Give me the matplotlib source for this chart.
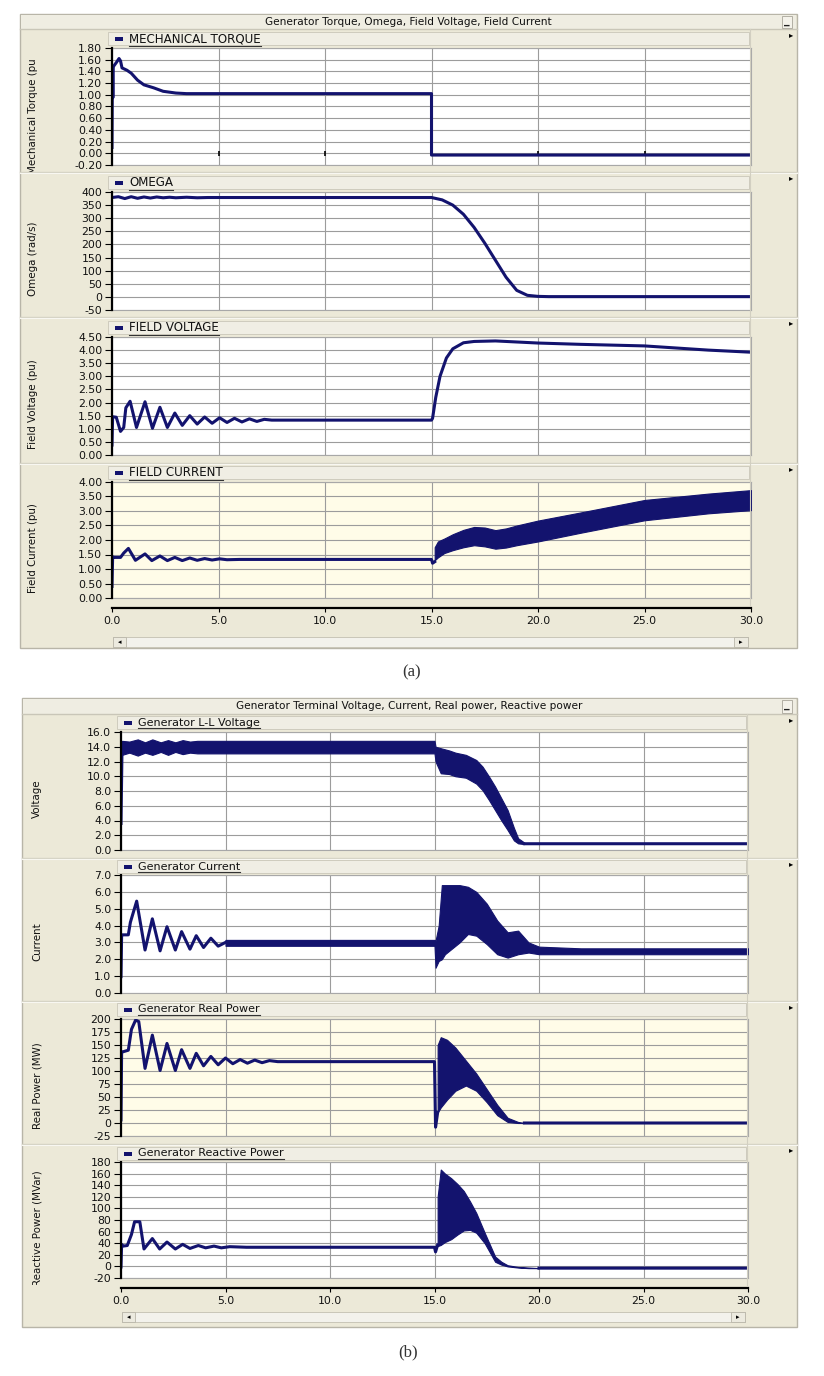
import numpy as np
import matplotlib
matplotlib.use("Agg")
import matplotlib.pyplot as plt
from matplotlib.patches import Rectangle
from matplotlib.lines import Line2D
from matplotlib.transforms import Bbox

# ---------------- data ----------------
# (a) Mechanical torque (pu)
torque_t = [0.0, 0.02, 0.04, 0.06, 0.10, 0.20, 0.33, 0.40, 0.47, 0.70, 0.90, 1.20, 1.50, 1.95, 2.40, 3.00, 3.50, 4.00, 15.0, 15.0, 30.0]
torque_v = [0.10, 1.45, 0.95, 1.48, 1.50, 1.55, 1.62, 1.58, 1.46, 1.42, 1.37, 1.25, 1.17, 1.12, 1.06, 1.03, 1.02, 1.02, 1.02, -0.03, -0.03]

# (a) Omega (rad/s)
omega_t = [0.0, 0.3, 0.6, 0.9, 1.2, 1.5, 1.8, 2.1, 2.4, 2.7, 3.0, 3.5, 4.0, 4.5, 5.0, 15.0, 15.5, 16.0, 16.5, 17.0, 17.5, 18.0, 18.5, 19.0, 19.5, 20.0, 20.5, 30.0]
omega_v = [379, 382, 375, 382, 376, 381, 377, 381, 378, 380, 378, 380, 378, 379, 379, 379, 370, 350, 315, 265, 205, 140, 75, 25, 6, 2, 1, 1]

# (a) Field voltage (pu)
fv_t = [0.0, 0.03, 0.20, 0.40, 0.55, 0.65, 0.85, 1.15, 1.55, 1.90, 2.25, 2.60, 2.95, 3.30, 3.65, 4.00, 4.35, 4.70, 5.05, 5.40, 5.75, 6.10, 6.45, 6.80, 7.15, 7.50,
        15.0, 15.05, 15.2, 15.4, 15.7, 16.0, 16.5, 17.0, 18.0, 19.0, 20.0, 22.0, 25.0, 28.0, 30.0]
fv_v = [0.38, 1.46, 1.44, 0.90, 1.05, 1.80, 2.05, 1.05, 2.03, 1.02, 1.82, 1.05, 1.60, 1.13, 1.50, 1.18, 1.45, 1.21, 1.42, 1.24, 1.40, 1.26, 1.38, 1.28, 1.36, 1.33,
        1.33, 1.40, 2.20, 3.00, 3.70, 4.05, 4.28, 4.33, 4.35, 4.31, 4.27, 4.22, 4.16, 4.00, 3.92]

# (a) Field current (pu): line part, then oscillating band
fc_t = [0.0, 0.03, 0.10, 0.40, 0.55, 0.77, 1.10, 1.55, 1.87, 2.25, 2.60, 2.95, 3.30, 3.65, 4.00, 4.35, 4.70, 5.05, 5.40, 6.00, 15.0, 15.05, 15.15]
fc_v = [0.40, 1.42, 1.40, 1.40, 1.55, 1.71, 1.30, 1.52, 1.29, 1.45, 1.29, 1.40, 1.29, 1.38, 1.30, 1.36, 1.31, 1.35, 1.32, 1.33, 1.33, 1.20, 1.25]
fc_band_t = [15.15, 15.3, 15.6, 16.0, 16.5, 17.0, 17.5, 18.0, 18.5, 19.0, 20.0, 22.0, 25.0, 28.0, 30.0]
fc_lo = [1.30, 1.40, 1.55, 1.65, 1.75, 1.82, 1.78, 1.70, 1.74, 1.82, 1.95, 2.25, 2.68, 2.92, 3.03]
fc_hi = [1.75, 1.95, 2.05, 2.20, 2.35, 2.45, 2.43, 2.34, 2.40, 2.50, 2.67, 2.95, 3.38, 3.60, 3.72]

# (b) Generator L-L voltage: start/tail line, band
volt_t = [0.0, 0.05, np.nan, 19.3, 30.0]
volt_v = [3.6, 14.0, np.nan, 0.85, 0.85]
volt_band_t = [0.05, 0.4, 0.8, 1.15, 1.5, 1.9, 2.25, 2.6, 2.95, 3.3, 3.65, 4.0, 8.0, 15.0, 15.05, 15.3, 15.7, 16.0, 16.5, 17.0, 17.3, 17.6, 17.9, 18.2, 18.5, 18.8, 19.0, 19.3]
volt_hi = [14.8, 14.7, 15.0, 14.6, 15.0, 14.6, 14.9, 14.6, 14.9, 14.7, 14.8, 14.8, 14.8, 14.8, 14.0, 13.8, 13.5, 13.2, 12.9, 12.2, 11.3, 10.0, 8.6, 7.0, 5.4, 3.0, 1.6, 1.0]
volt_lo = [12.9, 13.2, 12.8, 13.2, 12.9, 13.3, 12.9, 13.3, 13.0, 13.2, 13.1, 13.1, 13.1, 13.1, 12.0, 10.4, 10.3, 10.0, 9.8, 9.0, 8.1, 6.8, 5.4, 4.0, 2.7, 1.3, 0.9, 0.8]

# (b) Generator current
cur_t = [0.0, 0.03, 0.10, 0.35, 0.45, 0.75, 1.15, 1.50, 1.87, 2.20, 2.60, 2.90, 3.30, 3.60, 3.95, 4.30, 4.65, 5.00]
cur_v = [0.97, 3.45, 3.45, 3.45, 4.20, 5.45, 2.55, 4.40, 2.50, 3.93, 2.55, 3.64, 2.60, 3.40, 2.70, 3.25, 2.78, 3.00]
cur_band_t = [5.0, 15.0, 15.05, 15.2, 15.35, 15.5, 15.8, 16.2, 16.6, 17.0, 17.5, 18.0, 18.5, 19.0, 19.5, 20.0, 22.0, 30.0]
cur_lo = [2.80, 2.80, 1.50, 1.90, 2.00, 2.30, 2.60, 3.00, 3.50, 3.40, 2.90, 2.30, 2.10, 2.30, 2.40, 2.30, 2.30, 2.30]
cur_hi = [3.15, 3.15, 3.10, 4.00, 6.40, 6.40, 6.40, 6.40, 6.30, 6.00, 5.30, 4.30, 3.60, 3.70, 3.00, 2.75, 2.65, 2.65]

# (b) Generator real power (MW)
p_t = [0.0, 0.03, 0.10, 0.35, 0.50, 0.70, 0.85, 1.15, 1.50, 1.87, 2.20, 2.60, 2.90, 3.30, 3.60, 3.95, 4.30, 4.65, 5.00, 5.35, 5.70, 6.05, 6.40, 6.75, 7.10, 7.50, 15.0, 15.05, 15.15, np.nan, 19.3, 30.0]
p_v = [6, 137, 137, 140, 180, 198, 195, 105, 169, 101, 153, 101, 141, 105, 134, 110, 128, 112, 125, 114, 122, 115, 121, 116, 120, 118, 118, -8, 20, np.nan, 0, 0]
p_band_t = [15.15, 15.3, 15.6, 16.0, 16.5, 17.0, 17.5, 18.0, 18.5, 19.0, 19.3]
p_lo = [20, 30, 45, 62, 72, 62, 40, 15, 2, 0, 0]
p_hi = [150, 165, 160, 145, 120, 95, 65, 35, 10, 2, 0]

# (b) Generator reactive power (MVar)
q_t = [0.0, 0.03, 0.10, 0.30, 0.50, 0.65, 0.90, 1.10, 1.50, 1.85, 2.20, 2.60, 2.95, 3.30, 3.70, 4.05, 4.45, 4.80, 5.20, 6.00, 15.0, 15.05, 15.15, np.nan, 20.0, 30.0]
q_v = [-1, 38, 35, 36, 55, 77, 77, 30, 48, 30, 42, 30, 38, 31, 36, 32, 35, 32, 34, 33, 33, 25, 37, np.nan, -3, -3]
q_band_t = [15.15, 15.3, 15.5, 15.8, 16.1, 16.4, 16.7, 17.0, 17.4, 17.9, 18.2, 18.5, 19.0, 19.5, 20.0]
q_lo = [35, 37, 42, 47, 55, 62, 63, 58, 40, 8, 3, 0, -2, -3, -3]
q_hi = [120, 167, 160, 152, 142, 130, 112, 92, 58, 17, 8, 2, -1, -2, -3]

x_ticks = [0, 5, 10, 15, 20, 25, 30]

# ---------------- figure helpers ----------------
W, H = 824, 1376
NAVY = "#13136E"
BEIGE = "#ECE9D8"
GRID = "#9C9C9C"
CREAM = "#FFFCE8"
FONT = "DejaVu Sans"

fig = plt.figure(figsize=(W / 100, H / 100), dpi=100)
fig.patch.set_facecolor("white")


def add_rect(x0, y0, x1, y1, fc, ec="none", lw=0.8, z=0):
    fig.add_artist(Rectangle((x0 / W, 1 - y1 / H), (x1 - x0) / W, (y1 - y0) / H,
                             transform=fig.transFigure, facecolor=fc, edgecolor=ec,
                             linewidth=lw, zorder=z))


def line(x0, y0, x1, y1, color, lw=0.8, z=1):
    fig.add_artist(Line2D([x0 / W, x1 / W], [1 - y0 / H, 1 - y1 / H],
                          transform=fig.transFigure, color=color, lw=lw, zorder=z))


def text(x, y, s, **kw):
    kw.setdefault("family", FONT)
    return fig.text(x / W, 1 - y / H, s, **kw)


def draw_panel(x0, y0, x1, y1, title, row_bounds, px0, px1, xaxis_y, scroll_y):
    add_rect(x0, y0, x1, y1, BEIGE, ec="#B8B5A8", lw=1.0, z=0)
    # title bar
    add_rect(x0 + 1, y0 + 1, x1 - 1, row_bounds[0], "#EFEDE2", z=0.2)
    line(x0, row_bounds[0], x1, row_bounds[0], "#C9C6B8", lw=1.0, z=0.3)
    text((x0 + x1) / 2, y0 + 8, title, fontsize=7.6, ha="center", va="center", color="#111")
    add_rect(x1 - 15, y0 + 2, x1 - 5, row_bounds[0] - 1, "#F4F2EA", ec="#A9A69A", lw=0.6, z=0.4)
    text(x1 - 10, y0 + 7, "_", fontsize=8, ha="center", va="center", weight="bold", color="#222")
    # rows
    for i in range(len(row_bounds) - 1):
        ya, yb = row_bounds[i], row_bounds[i + 1]
        if i > 0:
            line(x0, ya, x1, ya, "#D5D2C4", lw=1.0, z=0.3)
            line(x0, ya + 1, x1, ya + 1, "#F8F7F1", lw=0.8, z=0.3)
        text(x1 - 6, ya + 6, "\u25B8", fontsize=6, ha="center", va="center", color="black")
    # right column divider
    line(px1 - 1, row_bounds[0], px1 - 1, row_bounds[-1], "#D2CFC1", lw=0.8, z=0.3)
    # scroll bar
    sa, sb = scroll_y
    add_rect(px0 + 1, sa, px1 - 3, sb, "#F3F2EC", ec="#C9C6B8", lw=0.7, z=0.4)
    add_rect(px0 + 1, sa, px0 + 14, sb, "#ECEADF", ec="#B9B6A9", lw=0.6, z=0.5)
    add_rect(px1 - 17, sa, px1 - 3, sb, "#ECEADF", ec="#B9B6A9", lw=0.6, z=0.5)
    text(px0 + 7.5, (sa + sb) / 2, "\u25C2", fontsize=5, ha="center", va="center", color="black")
    text(px1 - 10, (sa + sb) / 2, "\u25B8", fontsize=5, ha="center", va="center", color="black")
    # bottom x-axis
    ax = fig.add_axes([px0 / W, 1 - (xaxis_y + 0.5) / H, (px1 - px0) / W, 1 / H])
    ax.set_facecolor("none")
    for s in ("top", "left", "right"):
        ax.spines[s].set_visible(False)
    ax.spines["bottom"].set_linewidth(1.6)
    ax.spines["bottom"].set_color("black")
    ax.set_xlim(0, 30)
    ax.set_xticks(x_ticks)
    ax.set_xticklabels([f"{v:.1f}" for v in x_ticks], family=FONT, fontsize=7.8, color="#111")
    ax.tick_params(axis="x", length=3, width=0.8, pad=3, direction="out")
    ax.set_yticks([])


def draw_plot(px0, px1, top, bottom, ylim, yticks, fmt, bg, ylabel, ylabel_x, row, legend, leg_y, leg_fs,
              lines=(), bands=(), zero_ticks=False):
    # legend strip
    add_rect(px0 - 4, leg_y - 7, px1 - 2, leg_y + 6, "#F0EEE4", ec="#C9C6B8", lw=0.6, z=0.5)
    add_rect(px0 + 3, leg_y - 2, px0 + 11, leg_y + 1.5, NAVY, z=0.6)
    t = text(px0 + 17, leg_y - 0.5, legend, fontsize=leg_fs, ha="left", va="center", color="#111", zorder=0.7)
    r = fig.canvas.get_renderer()
    bb = t.get_window_extent(r)
    fig.add_artist(Line2D([bb.x0 / W, bb.x1 / W], [(bb.y0 - 0.5) / H] * 2, transform=fig.transFigure,
                          color="#333", lw=0.8, zorder=0.7))
    # y-label clipped to its row
    yl = text(ylabel_x, (top + bottom) / 2 + 8, ylabel, fontsize=7.4, rotation=90, ha="center", va="center",
              color="#111", zorder=0.7)
    yl.set_clip_box(Bbox([[0, (H - row[1])], [W, (H - row[0])]]))
    yl.set_clip_on(True)

    ax = fig.add_axes([px0 / W, 1 - bottom / H, (px1 - px0) / W, (bottom - top) / H])
    ax.set_facecolor(bg)
    ax.set_xlim(0, 30)
    ax.set_ylim(*ylim)
    ax.set_xticks(x_ticks)
    ax.set_yticks(yticks)
    ax.set_yticklabels([fmt.format(v) for v in yticks], family=FONT, fontsize=7.8, color="#111")
    ax.tick_params(axis="x", length=0, labelbottom=False)
    ax.tick_params(axis="y", length=5, width=0.8, pad=2, direction="out", color="black")
    ax.grid(True, color=GRID, lw=0.8)
    ax.set_axisbelow(True)
    for s in ("top", "right", "bottom"):
        ax.spines[s].set_color("#A8A8A8")
        ax.spines[s].set_linewidth(0.8)
    ax.spines["left"].set_color("black")
    ax.spines["left"].set_linewidth(1.6)
    ax.spines["left"].set_zorder(5)
    if zero_ticks:
        ax.vlines(x_ticks[1:-1], -0.045, 0.045, color="black", lw=1.2, zorder=2)
    for (bt, lo, hi) in bands:
        ax.fill_between(bt, lo, hi, color=NAVY, lw=0.8, zorder=3)
    for (lt, lv) in lines:
        ax.plot(lt, lv, color=NAVY, lw=2.2, zorder=4, solid_joinstyle="round")
    return ax


# ---------------- panel (a) ----------------
A_x0, A_x1 = 112, 751
rowsA = [29, 172, 317, 463, 605]
draw_panel(20, 14, 797, 648, "Generator Torque, Omega, Field Voltage, Field Current", rowsA, A_x0, A_x1, 607, (637, 647))

draw_plot(A_x0, A_x1, 48, 165, (-0.2, 1.8), list(np.round(np.arange(-0.2, 1.81, 0.2), 2)), "{:.2f}", "white",
          "Mechanical Torque (pu)", 33, (60, 172), "MECHANICAL TORQUE", 39, 8.6,
          lines=[(torque_t, torque_v)], zero_ticks=True)
draw_plot(A_x0, A_x1, 192, 310, (-50, 400), list(range(-50, 401, 50)), "{:d}", "white",
          "Omega (rad/s)", 33, rowsA[1:3], "OMEGA", 183, 8.6,
          lines=[(omega_t, omega_v)])
draw_plot(A_x0, A_x1, 337, 455, (0, 4.5), list(np.round(np.arange(0, 4.51, 0.5), 2)), "{:.2f}", "white",
          "Field Voltage (pu)", 33, rowsA[2:4], "FIELD VOLTAGE", 328, 8.6,
          lines=[(fv_t, fv_v)])
draw_plot(A_x0, A_x1, 482, 598, (0, 4.0), list(np.round(np.arange(0, 4.01, 0.5), 2)), "{:.2f}", CREAM,
          "Field Current (pu)", 33, rowsA[3:5], "FIELD CURRENT", 473, 8.6,
          lines=[(fc_t, fc_v)], bands=[(fc_band_t, fc_lo, fc_hi)])

text(412, 672, "(a)", family="Liberation Serif", fontsize=12, ha="center", va="center", color="#333")

# ---------------- panel (b) ----------------
B_x0, B_x1 = 121, 748
rowsB = [714, 858, 1001, 1144, 1285]
draw_panel(22, 698, 797, 1327, "Generator Terminal Voltage, Current, Real power, Reactive power", rowsB, B_x0, B_x1, 1287.5, (1312, 1322))

draw_plot(B_x0, B_x1, 732, 850, (0, 16), list(range(0, 17, 2)), "{:.1f}", "white",
          "Voltage", 37, rowsB[0:2], "Generator L-L Voltage", 723, 8.0,
          lines=[(volt_t, volt_v)], bands=[(volt_band_t, volt_lo, volt_hi)])
draw_plot(B_x0, B_x1, 875, 993, (0, 7), list(range(0, 8)), "{:.1f}", "white",
          "Current", 37, rowsB[1:3], "Generator Current", 867, 8.0,
          lines=[(cur_t, cur_v)], bands=[(cur_band_t, cur_lo, cur_hi)])
draw_plot(B_x0, B_x1, 1019, 1136, (-25, 200), list(range(-25, 201, 25)), "{:d}", CREAM,
          "Real Power (MW)", 37, rowsB[2:4], "Generator Real Power", 1010, 8.0,
          lines=[(p_t, p_v)], bands=[(p_band_t, p_lo, p_hi)])
draw_plot(B_x0, B_x1, 1162, 1278, (-20, 180), list(range(-20, 181, 20)), "{:d}", "white",
          "Reactive Power (MVar)", 37, rowsB[3:5], "Generator Reactive Power", 1154, 8.0,
          lines=[(q_t, q_v)], bands=[(q_band_t, q_lo, q_hi)])

text(408, 1352, "(b)", family="Liberation Serif", fontsize=12, ha="center", va="center", color="#333")

fig.savefig("out.png", dpi=100)
